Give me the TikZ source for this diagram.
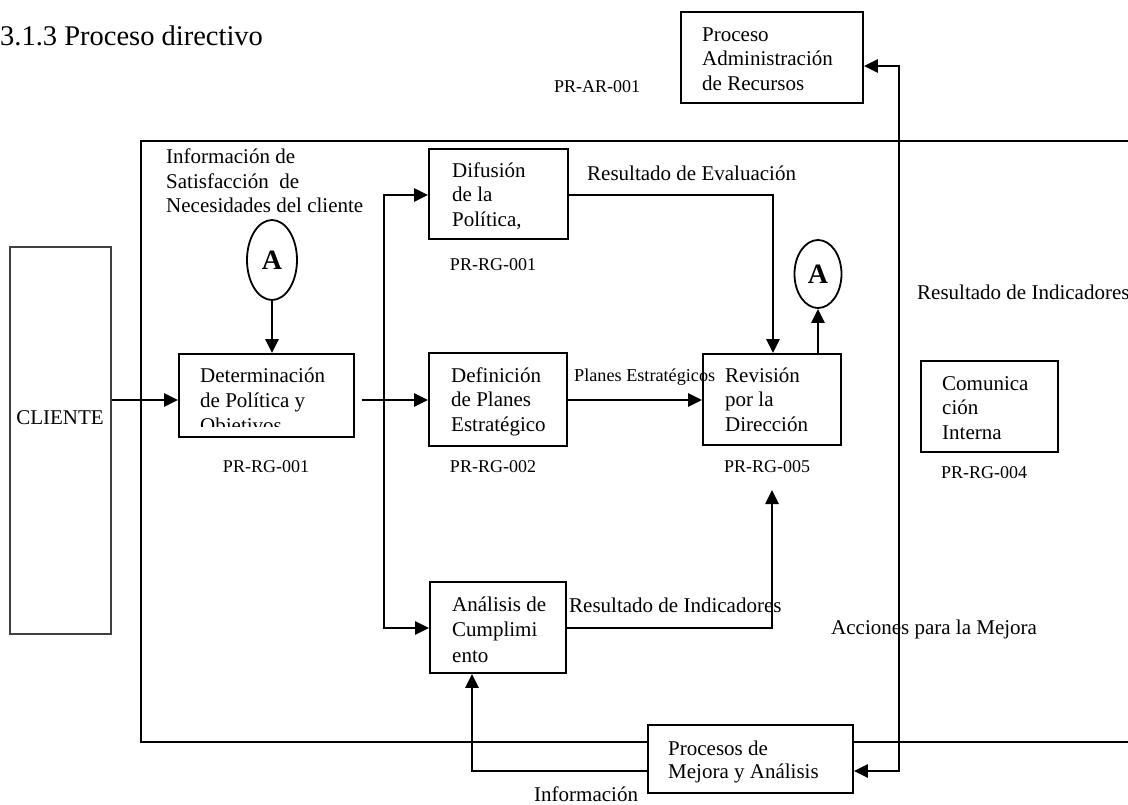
\documentclass[tikz,border=0pt]{standalone}
\usepackage{fontspec}
\setmainfont{Liberation Serif}
\usetikzlibrary{arrows.meta,shapes.geometric}

\tikzset{
  box/.style={draw, line width=1.8pt, fill=white, inner sep=0pt},
  clientbox/.style={draw=black!75, line width=1.3pt, fill=white, inner sep=0pt},
  txt/.style={inner sep=0pt, anchor=north west, align=left,
              font=\fontsize{21}{24.5}\selectfont},
  lbl/.style={inner sep=0pt, font=\fontsize{21}{24.5}\selectfont},
  code/.style={inner sep=0pt, font=\fontsize{18}{21}\selectfont},
  small/.style={inner sep=0pt, font=\fontsize{18.2}{20}\selectfont},
  frame/.style={line width=1.6pt},
  arr/.style={line width=2.6pt, -{Triangle[length=14pt,width=13pt]}},
  both/.style={line width=2.6pt, {Triangle[length=14pt,width=13pt]}-{Triangle[length=14pt,width=13pt]}},
  letter/.style={draw, ellipse, line width=1.8pt, fill=white, inner sep=0pt,
                 font=\fontsize{28}{30}\selectfont\bfseries},
}

\begin{document}
\begin{tikzpicture}[x=1pt,y=-1pt]
\useasboundingbox (0,0) rectangle (1128,804);
\clip (0,0) rectangle (1128,804);

% heading
\node[anchor=base west, inner sep=0pt, font=\fontsize{28.5}{32}\selectfont] (title) at (0,45) {3.1.3 Proceso directivo};

% process frame (open on the right)
\draw[frame] (1140,141) -- (141,141) -- (141,742) -- (1140,742);

% boxes
\node[clientbox, minimum width=101pt, minimum height=387pt] (cli) at (60.5,440.5) {};
\node[lbl] (cliT) at (60,418) {CLIENTE};

\node[box, minimum width=182pt, minimum height=91pt] (admin) at (772,57.5) {};
\node[txt] (adminT) at (702,24) {\strut Proceso\\Administración\\de Recursos};
\node[code] (codeAR) at (597,87) {PR-AR-001};

\node[box, minimum width=139pt, minimum height=90pt] (difu) at (498.5,194) {};
\node[txt] (difuT) at (452,160) {\strut Difusión\\de la\\Política,};
\node[code] (codeDif) at (493,265) {PR-RG-001};

\node[box, minimum width=175pt, minimum height=83pt] (det) at (266.5,395.5) {};
\begin{scope}
  \clip (179,354) rectangle (354,426);
  \node[txt, font=\fontsize{21}{25}\selectfont] (detT) at (200,365) {\strut Determinación\\de Política y\\Objetivos};
\end{scope}
\node[code] (codeDet) at (266,467) {PR-RG-001};

\node[box, minimum width=138pt, minimum height=93pt] (defi) at (498,399.5) {};
\node[txt] (defiT) at (451,365) {\strut Definición\\de Planes\\Estratégico};
\node[code] (codeDef) at (493,467) {PR-RG-002};

\node[box, minimum width=138pt, minimum height=91pt] (revi) at (772,399.5) {};
\node[txt] (reviT) at (725,365) {\strut Revisión\\por la\\Dirección};
\node[code] (codeRev) at (767,467) {PR-RG-005};

\node[box, minimum width=137pt, minimum height=91pt] (comu) at (989.5,406.5) {};
\node[txt] (comuT) at (942,373) {\strut Comunica\\ción\\Interna};
\node[code] (codeCom) at (984,473) {PR-RG-004};

\node[box, minimum width=136pt, minimum height=91pt] (anal) at (498,627.5) {};
\node[txt, font=\fontsize{21}{25.5}\selectfont] (analT) at (452,593) {\strut Análisis de\\Cumplimi\\ento};

\node[box, minimum width=205pt, minimum height=68pt] (proc) at (750.5,759) {};
\node[txt, font=\fontsize{21}{23}\selectfont] (procT) at (668,739) {\strut Procesos de\\Mejora y Análisis};

% connector symbols
\node[letter, minimum width=50pt, minimum height=80pt] (A1) at (272,260) {A};
\node[letter, minimum width=47pt, minimum height=68pt] (A2) at (818,274) {A};

% free labels
\node[txt] (infoT) at (166,147) {\fontsize{21}{23.5}\selectfont\strut Información de\\Satisfacción\ \ de\\Necesidades del cliente};
\node[lbl, anchor=west] (evalL) at (587,173) {Resultado de Evaluación};
\node[lbl, anchor=west] (indR) at (917,292) {Resultado de Indicadores};
\node[lbl, anchor=west] (indM) at (569,605) {Resultado de Indicadores};
\node[small, anchor=west] (planL) at (574,377) {Planes Estratégicos};
\node[lbl, anchor=west] (accL) at (831,629) {Acciones para la Mejora};
\node[lbl, anchor=west] (infL) at (534,794) {Información};

% flow
\coordinate (split) at (384,400);
\coordinate (tip) at (772,490);
\draw[arr] (cli.east |- split) -- (det.west |- split);
\draw[arr] (A1.south) -- (A1.south |- det.north);
\draw[arr] (det.east |- split) ++(7,0) -- (defi.west |- split);
\draw[arr] (split) |- (difu.west |- 0,195);
\draw[arr] (split) |- (anal.west |- 0,628);
\draw[arr] (difu.east |- 0,195) -| (revi.north -| 773,0);
\draw[arr] (defi.east |- split) -- (revi.west |- split);
\draw[arr] (revi.north -| A2.south) -- (A2.south);
\draw[arr] (anal.east |- 0,628) -| (tip);
\draw[arr] (proc.west |- 0,771) -| (anal.south -| 472,0);
\draw[both] (admin.east |- 0,66) -| (899,400) |- (proc.east |- 0,771);
\end{tikzpicture}
\end{document}
